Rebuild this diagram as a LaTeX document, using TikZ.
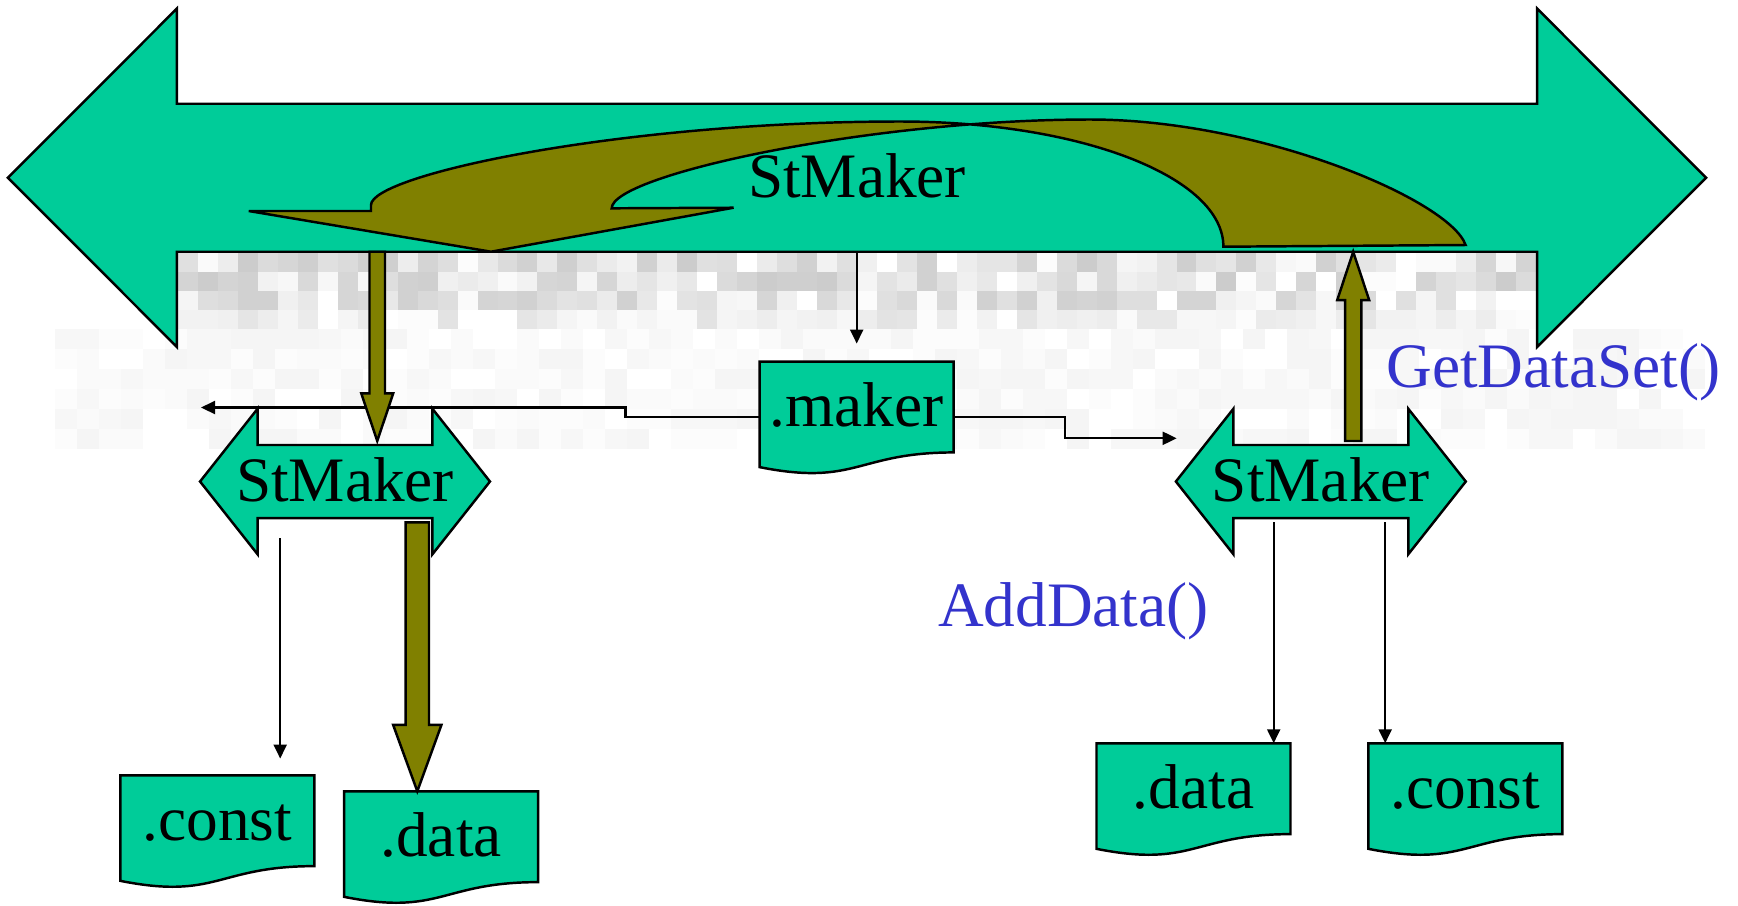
\documentclass[tikz,border=0pt]{standalone}
\usepackage{fontspec}
\setmainfont{Liberation Serif}
\usetikzlibrary{arrows.meta,calc}
\pgfdeclarelayer{background}
\pgfsetlayers{background,main}
\definecolor{teal2}{HTML}{00CC99}
\definecolor{oliv}{HTML}{808000}
\definecolor{blu}{HTML}{3333CC}
\tikzset{
  shapest/.style={draw=black, line width=0.7pt, fill=teal2, line join=miter},
  olivest/.style={draw=black, line width=0.7pt, fill=oliv, line join=miter},
  thinarr/.style={draw=black, line width=0.6pt, -{Triangle[length=0.14cm,width=0.13cm]}},
  lbl/.style={inner sep=0pt, font=\fontsize{18}{21}\selectfont, text height=11.2pt, text depth=0pt},
  docnode/.style={lbl, minimum width=1.925cm, minimum height=0.894cm},
  smallarr/.style={lbl, minimum width=1.734cm, minimum height=0.716cm},
  bluelabel/.style={inner sep=0pt, font=\fontsize{18}{21}\selectfont, text=blu},
}
\newcommand\dblarrow[3]{%
  \begin{pgfonlayer}{background}
  \draw[shapest] (#1.north west) -- ++(0,-#2) -- ($(#1.west)+(-#3,0)$) -- ($(#1.south west)+(0,#2)$)
    -- (#1.south west) -- (#1.south east) -- ++(0,#2) -- ($(#1.east)+(#3,0)$)
    -- ($(#1.north east)+(0,-#2)$) -- (#1.north east) -- cycle;
  \end{pgfonlayer}}
\newcommand\docshape[1]{%
  \begin{pgfonlayer}{background}
  \draw[shapest] (#1.north west) -- (#1.north east) -- (#1.south east)
    .. controls (#1.south) and ($(#1.south)+(0,34)$) .. ($(#1.south west)+(0,14.7)$) -- cycle;
  \end{pgfonlayer}}
\newcommand\vblock[5]{%
  \draw[olivest] ($(#1)+(-#3,0)$) -- ($(#2)+(-#3,#5)$) -- ($(#2)+(-#4,#5)$) -- (#2)
    -- ($(#2)+(#4,#5)$) -- ($(#2)+(#3,#5)$) -- ($(#1)+(#3,0)$) -- cycle;}
\begin{document}
\begin{tikzpicture}[x=0.01cm, y=-0.01cm]
\useasboundingbox (0,0) rectangle (1738,905);
% blurred backdrop
\begin{pgfonlayer}{background}
\pgfmathsetseed{1234}
\foreach \i in {0,...,67}{\foreach \j/\m in {0/20,1/20,2/18,3/11}{%
  \pgfmathrandominteger{\g}{0}{\m}%
  \fill[black!\g] (178+\i*19.97,253+\j*19) rectangle ++(19.97,19);}}
\foreach \i in {0,...,74}{\foreach \j in {0,...,5}{%
  \pgfmathrandominteger{\g}{0}{4}%
  \fill[black!\g] (55+\i*22,329+\j*20) rectangle ++(22,20);}}
\end{pgfonlayer}

% big double arrow
\node[lbl, minimum width=13.58cm, minimum height=1.465cm] (big) at (857,177.75) {StMaker};
\dblarrow{big}{95.2}{169}

% curved olive arrow
\draw[olivest] (1223.4,246.7) -- (1465.6,245)
  .. controls (1450,200) and (1260,119.5) .. (1090,119.5)
  .. controls (870,119.5) and (611.7,175) .. (611.7,208.3)
  -- (733.6,207.7) -- (491,251.7) -- (248.8,211) -- (371,211) -- (371,205)
  .. controls (371,175) and (620,121.5) .. (900,121.5)
  .. controls (1080,121.5) and (1223.4,176.7) .. (1223.4,246.7)
  -- cycle;

% small double arrows
\node[smallarr] (lsm) at (345,481.5) {\makebox[0pt]{StMaker}};
\dblarrow{lsm}{36.2}{57.5}
\node[smallarr] (rsm) at (1320.85,481.5) {\makebox[0pt]{StMaker}};
\dblarrow{rsm}{36.2}{57.5}

% documents
\node[docnode] (maker) at (856.7,407) {.maker};
\docshape{maker}
\node[docnode] (lconst) at (217.3,820.7) {.const};
\docshape{lconst}
\node[docnode] (ldata) at (441.1,836.7) {.data};
\docshape{ldata}
\node[docnode] (rdata) at (1193.5,788.7) {.data};
\docshape{rdata}
\node[docnode] (rconst) at (1465.4,788.7) {.const};
\docshape{rconst}

% labels
\node[bluelabel, anchor=base west] (gds) at (1385.8,387.7) {GetDataSet()};
\node[bluelabel, anchor=base west] (add) at (937.4,626.7) {AddData()};

% thin connectors
\coordinate (lstep) at (625.5,407.5);
\coordinate (lend) at (201,407.5);
\coordinate (rstep) at (1065,438.3);
\coordinate (rend) at (1176.7,438.3);
\coordinate (c1) at (280.2,0);
\coordinate (c2) at (1273.7,0);
\coordinate (c3) at (1385.2,0);
\draw[thinarr, shorten >=0.18cm] (big.south -| maker.north) -- (maker.north);
\draw[thinarr] ($(maker.west)+(0,10.3)$) -| (lstep) -- (lend);
\draw[thinarr] ($(maker.east)+(0,10.3)$) -| (rstep) -- (rend);
\draw[thinarr, shorten <=0.2cm, shorten >=0.167cm] (lsm.south -| c1) -- (lconst.north -| c1);
\draw[thinarr, shorten <=0.044cm] (rsm.south -| c2) -- (rdata.north -| c2);
\draw[thinarr, shorten <=0.044cm] (rsm.south -| c3) -- (rconst.north -| c3);

% olive block arrows
\coordinate (a1) at (377.25,0);
\coordinate (a2) at (417.3,0);
\coordinate (a3) at (1353.2,0);
\coordinate (a1s) at (big.south -| a1);
\coordinate (a1t) at ($(lsm.north -| a1)+(0,-4)$);
\vblock{a1s}{a1t}{7.75}{16}{-47.7}
\coordinate (a2s) at ($(lsm.south -| a2)+(0,4.4)$);
\coordinate (a2t) at (ldata.north -| a2);
\vblock{a2s}{a2t}{11.7}{24.15}{-66.4}
\coordinate (a3s) at ($(rsm.north -| a3)+(0,-4)$);
\coordinate (a3t) at (big.south -| a3);
\vblock{a3s}{a3t}{8.15}{16}{48.4}
\end{tikzpicture}
\end{document}
